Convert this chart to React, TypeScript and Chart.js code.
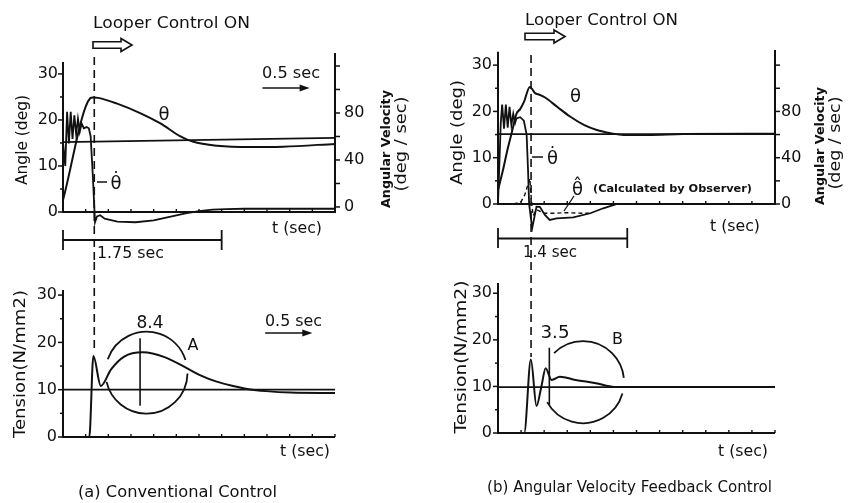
import React, { useEffect, useRef } from 'react';
import { Chart, registerables } from 'chart.js';

Chart.register(...registerables);

// ---------------- Data: (a) Conventional Control ----------------
const A_THETA_T = [0, 0.30, 0.33, 0.39, 0.59, 0.85, 1.07, 1.29, 1.43, 1.70, 2.06, 2.43, 3.0];
const A_THETA = [2.6, 24.7, 24.9, 24.8, 23.6, 21.5, 19.3, 16.5, 15.3, 14.4, 14.1, 14.2, 14.8];

const A_OMEGA_T = [0, 0.025, 0.045, 0.065, 0.085, 0.105, 0.125, 0.145, 0.165, 0.185, 0.205, 0.23, 0.26, 0.285, 0.305, 0.33, 0.353, 0.375, 0.41, 0.46, 0.6, 0.8, 1.0, 1.2, 1.35, 1.5, 1.65, 1.8, 2.0, 3.0];
const A_OMEGA = [55, 35, 81, 54, 81, 58, 78, 62, 75, 64, 71, 67, 68, 67, 60, 25, -13, -8, -7, -10, -12.5, -13, -11.5, -8, -5.5, -3.5, -2.3, -1.8, -1.5, -1.5];

const A_REF_ANGLE_T = [0, 3];
const A_REF_ANGLE = [15.2, 16.1];

const A_TENSION_T = [0, 0.29, 0.335, 0.417, 0.53, 0.675, 0.88, 1.12, 1.38, 1.51, 1.695, 1.875, 2.05, 2.24, 2.51, 3.0];
const A_TENSION = [0, 0, 17.1, 10.8, 14.3, 17.0, 17.9, 16.9, 14.4, 13.1, 11.7, 10.8, 10.1, 9.7, 9.4, 9.3];

const A_REF_TENSION_T = [0, 3];
const A_REF_TENSION = [10, 10];

// ---------------- Data: (b) Angular Velocity Feedback Control ----------------
const B_THETA_T = [0, 0.05, 0.1, 0.15, 0.2, 0.24, 0.28, 0.345, 0.37, 0.4, 0.45, 0.51, 0.64, 0.78, 0.93, 1.07, 1.22, 1.36, 1.62, 2.0, 3.0];
const B_THETA = [3.0, 7, 11.5, 15.5, 19.5, 20.5, 22, 25.3, 24.8, 24, 23.6, 23, 21, 18.9, 17.1, 16, 15.3, 14.9, 14.9, 15.1, 15.2];

const B_OMEGA_T = [0, 0.03, 0.045, 0.065, 0.085, 0.105, 0.125, 0.145, 0.165, 0.185, 0.2, 0.24, 0.28, 0.31, 0.325, 0.337, 0.37, 0.417, 0.453, 0.508, 0.56, 0.635, 0.815, 1.0, 1.14, 1.29, 3.0];
const B_OMEGA = [0, 70, 86, 65, 86, 66, 84, 68, 78, 70, 74, 75, 72, 60, 30, 0, -21, -2.3, -2.5, -9.5, -13.8, -12.4, -11.5, -8, -3.7, 0, 0];

const B_OBSERVER_T = [0.17, 0.25, 0.29, 0.345, 0.36, 0.38, 0.42, 0.5, 0.6, 0.75, 0.9, 1.0];
const B_OBSERVER = [0, 2, 8, 22, 5, -10, -5, -8, -8, -7.5, -8, -8];

const B_REF_ANGLE_T = [0, 3];
const B_REF_ANGLE = [15.1, 15.1];

const B_TENSION_T = [0, 0.284, 0.356, 0.417, 0.47, 0.516, 0.58, 0.67, 0.84, 1.06, 1.26, 1.6, 3.0];
const B_TENSION = [0, 0, 15.8, 5.8, 10, 13.9, 11.4, 12.1, 11.4, 10.7, 9.9, 9.85, 9.85];

const B_REF_TENSION_T = [0, 3];
const B_REF_TENSION = [9.85, 9.85];

// ---------------- Ticks ----------------
const ANGLE_TICKS = [0, 10, 20, 30];
const ANGLE_MARKS = [0, 5, 10, 15, 20, 25, 30];
const VEL_TICKS = [0, 40, 80];
const VEL_MARKS = [0, 20, 40, 60, 80, 100, 120];
const TENSION_TICKS = [0, 10, 20, 30];
const TENSION_MARKS = [0, 5, 10, 15, 20, 25, 30];
const TIME_MARKS = [0.25, 0.5, 0.75, 1, 1.25, 1.5, 1.75, 2, 2.25, 2.5, 2.75, 3];

// Events / measures (seconds)
const ON_A = 0.345;
const ON_B = 0.358;
const SETTLE_A = 1.75;
const SETTLE_B = 1.4;

const INK = '#111';
const FONT = '"DejaVu Sans", "Liberation Sans", Arial, sans-serif';
const TH = '\u03B8';
const TH_DOT = '\u03B8\u0307';
const TH_HAT = '\u03B8\u0302';
const AXIS_W = 40;

// ---------------- helpers ----------------
const pts = (t: number[], v: number[]) => t.map((x, i) => ({ x, y: v[i] }));

function ds(t: number[], v: number[], axis: string, extra: any = {}) {
  return {
    data: pts(t, v),
    yAxisID: axis,
    borderColor: INK,
    borderWidth: 2,
    pointRadius: 0,
    fill: false,
    tension: 0,
    cubicInterpolationMode: 'monotone',
    ...extra,
  };
}

function yAxis(pos: 'left' | 'right', min: number, max: number, ticks: number[], padding: number) {
  return {
    type: 'linear',
    position: pos,
    min,
    max,
    afterFit: (s: any) => { s.width = AXIS_W; },
    afterBuildTicks: (s: any) => { s.ticks = ticks.map((v) => ({ value: v })); },
    grid: { display: false, drawTicks: false },
    border: { display: false },
    ticks: {
      color: INK,
      autoSkip: false,
      padding,
      font: { family: FONT, size: 16 },
      callback: (v: any) => String(v),
    },
  };
}

const X = (c: any, t: number) => c.scales.x.getPixelForValue(t);
const Y = (c: any, id: string, v: number) => c.scales[id].getPixelForValue(v);

function seg(ctx: CanvasRenderingContext2D, x1: number, y1: number, x2: number, y2: number, w = 2) {
  ctx.beginPath();
  ctx.lineWidth = w;
  ctx.moveTo(x1, y1);
  ctx.lineTo(x2, y2);
  ctx.stroke();
}

function dashed(ctx: CanvasRenderingContext2D, x: number, y1: number, y2: number) {
  ctx.save();
  ctx.setLineDash([8, 5]);
  seg(ctx, x, y1, x, y2, 1.6);
  ctx.restore();
}

type TOpts = { size?: number; weight?: string; align?: CanvasTextAlign; baseline?: CanvasTextBaseline; width?: number; rot?: number };
function txt(ctx: CanvasRenderingContext2D, s: string, x: number, y: number, o: TOpts = {}) {
  const size = o.size || 16;
  const w = o.weight || 'normal';
  ctx.save();
  ctx.font = `${w} ${size}px ${FONT}`;
  ctx.fillStyle = INK;
  ctx.textAlign = o.align || 'left';
  ctx.textBaseline = o.baseline || 'alphabetic';
  ctx.translate(x, y);
  if (o.rot) ctx.rotate(o.rot);
  if (o.width) {
    const m = ctx.measureText(s).width;
    ctx.scale(o.width / m, 1);
  }
  ctx.fillText(s, 0, 0);
  ctx.restore();
}

function hollowArrow(ctx: CanvasRenderingContext2D, x: number, y: number, len: number) {
  const h = 3.2, hh = 6.5, head = 11;
  ctx.beginPath();
  ctx.moveTo(x, y - h);
  ctx.lineTo(x + len - head, y - h);
  ctx.lineTo(x + len - head, y - hh);
  ctx.lineTo(x + len, y);
  ctx.lineTo(x + len - head, y + hh);
  ctx.lineTo(x + len - head, y + h);
  ctx.lineTo(x, y + h);
  ctx.closePath();
  ctx.lineWidth = 1.6;
  ctx.stroke();
}

function arrow(ctx: CanvasRenderingContext2D, x1: number, x2: number, y: number) {
  seg(ctx, x1, y, x2 - 6, y, 1.6);
  ctx.beginPath();
  ctx.moveTo(x2, y);
  ctx.lineTo(x2 - 10, y - 3.5);
  ctx.lineTo(x2 - 10, y + 3.5);
  ctx.closePath();
  ctx.fill();
}

function bracket(ctx: CanvasRenderingContext2D, xa: number, xb: number, y: number, t1: number, t2: number) {
  seg(ctx, xa, y, xb, y, 1.8);
  seg(ctx, xa, t1, xa, t2, 1.8);
  seg(ctx, xb, t1, xb, t2, 1.8);
}

function arcs(ctx: CanvasRenderingContext2D, cx: number, cy: number, r: number, ranges: number[][]) {
  ctx.lineWidth = 1.8;
  ranges.forEach(([a, b]) => {
    ctx.beginPath();
    ctx.arc(cx, cy, r, (a * Math.PI) / 180, (b * Math.PI) / 180);
    ctx.stroke();
  });
}

function axesFrame(c: any, ctx: CanvasRenderingContext2D, leftId: string, leftTop: number, marks: number[], rightId?: string, rightTop?: number) {
  const x0 = X(c, 0), x3 = X(c, 3), yb = Y(c, leftId, 0);
  seg(ctx, x0, yb, x3, yb, 2);
  seg(ctx, x0, Y(c, leftId, leftTop), x0, yb + 1, 2);
  marks.forEach((v) => seg(ctx, x0 - (v % 10 === 0 ? 5 : 3), Y(c, leftId, v), x0, Y(c, leftId, v), 1.5));
  TIME_MARKS.forEach((t) => seg(ctx, X(c, t), yb, X(c, t), yb - 3, 1.4));
  if (rightId && rightTop !== undefined) {
    seg(ctx, x3, Y(c, rightId, rightTop), x3, yb + 1, 2);
    VEL_MARKS.forEach((v) => seg(ctx, x3, Y(c, rightId, v), x3 + 5, Y(c, rightId, v), 1.5));
  }
}

function config(datasets: any[], scales: any, padding: any, draw: (c: any, ctx: CanvasRenderingContext2D) => void) {
  return {
    type: 'line',
    data: { datasets },
    options: {
      responsive: false,
      animation: false,
      devicePixelRatio: 1,
      events: [],
      layout: { padding },
      plugins: { legend: { display: false }, tooltip: { enabled: false } },
      scales,
    },
    plugins: [
      {
        id: 'annot',
        afterDraw: (c: any) => {
          const ctx = c.ctx as CanvasRenderingContext2D;
          ctx.save();
          ctx.strokeStyle = INK;
          ctx.fillStyle = INK;
          draw(c, ctx);
          ctx.restore();
        },
      },
    ],
  } as any;
}

const ROT = -Math.PI / 2;

// ---------------- Panels ----------------
function topA() {
  return config(
    [
      ds(A_REF_ANGLE_T, A_REF_ANGLE, 'y', { cubicInterpolationMode: 'default', borderWidth: 1.8 }),
      ds(A_THETA_T, A_THETA, 'y'),
      ds(A_OMEGA_T, A_OMEGA, 'y2', { cubicInterpolationMode: 'default', borderWidth: 1.8 }),
    ],
    {
      x: { type: 'linear', min: 0, max: 3, display: false },
      y: yAxis('left', -3.48, 35.2, ANGLE_TICKS, 5),
      y2: yAxis('right', -17.9, 133.6, VEL_TICKS, 9),
    },
    { left: 63 - AXIS_W, right: 94 - AXIS_W, top: 50, bottom: 34 },
    (c, ctx) => {
      axesFrame(c, ctx, 'y', 32.6, ANGLE_MARKS, 'y2', 131);
      dashed(ctx, X(c, ON_A), 57, c.height);
      txt(ctx, 'Looper Control ON', 93, 28, { size: 16, width: 157 });
      hollowArrow(ctx, 93, 45, 39);
      txt(ctx, '0.5 sec', 262, 78, { size: 16, width: 58 });
      arrow(ctx, X(c, 2.2), X(c, 2.72), 88);
      txt(ctx, TH, 164, 115, { size: 18, align: 'center', baseline: 'middle' });
      seg(ctx, 97, 182, 107, 182, 1.5);
      txt(ctx, TH_DOT, 116, 184, { size: 18, align: 'center', baseline: 'middle' });
      txt(ctx, 't (sec)', 272, 233, { size: 16, width: 50 });
      bracket(ctx, X(c, 0), X(c, SETTLE_A), 240, 230, 250);
      txt(ctx, '1.75 sec', 97, 258, { size: 16, width: 67 });
      txt(ctx, 'Angle (deg)', 23, 140, { size: 15, width: 90, rot: ROT, align: 'center', baseline: 'middle' });
      txt(ctx, 'Angular Velocity', 387, 149, { size: 12, weight: 'bold', width: 118, rot: ROT, align: 'center', baseline: 'middle' });
      txt(ctx, '(deg / sec)', 402, 144, { size: 15, width: 95, rot: ROT, align: 'center', baseline: 'middle' });
    }
  );
}

function bottomA() {
  return config(
    [
      ds(A_REF_TENSION_T, A_REF_TENSION, 'y', { cubicInterpolationMode: 'default', borderWidth: 1.8 }),
      ds(A_TENSION_T, A_TENSION, 'y'),
    ],
    {
      x: { type: 'linear', min: 0, max: 3, display: false },
      y: yAxis('left', 0, 31.08, TENSION_TICKS, 6),
    },
    { left: 63 - AXIS_W, right: 94, top: 28, bottom: 66 },
    (c, ctx) => {
      axesFrame(c, ctx, 'y', 31.08, TENSION_MARKS);
      dashed(ctx, X(c, ON_A), 0, 88);
      arcs(ctx, X(c, 0.921), Y(c, 'y', 13.6), 41, [[-161, -18], [1, 167]]);
      seg(ctx, X(c, 0.85), Y(c, 'y', 20.9), X(c, 0.85), Y(c, 'y', 6.6), 1.6);
      txt(ctx, '8.4', 150, 66, { size: 17, width: 27, align: 'center' });
      txt(ctx, 'A', 193, 84, { size: 16, align: 'center', baseline: 'middle' });
      txt(ctx, '0.5 sec', 265, 64, { size: 16, width: 57 });
      arrow(ctx, X(c, 2.23), X(c, 2.75), 71);
      txt(ctx, 't (sec)', 280, 194, { size: 16, width: 50 });
      txt(ctx, '(a) Conventional Control', 78, 235, { size: 16, width: 199 });
      txt(ctx, 'Tension(N/mm2)', 21, 102, { size: 16, width: 148, rot: ROT, align: 'center', baseline: 'middle' });
    }
  );
}

function topB() {
  return config(
    [
      ds(B_REF_ANGLE_T, B_REF_ANGLE, 'y', { cubicInterpolationMode: 'default', borderWidth: 1.8 }),
      ds(B_THETA_T, B_THETA, 'y'),
      ds(B_OMEGA_T, B_OMEGA, 'y2', { cubicInterpolationMode: 'default', borderWidth: 1.8 }),
      ds(B_OBSERVER_T, B_OBSERVER, 'y2', { cubicInterpolationMode: 'default', borderWidth: 1.4, borderDash: [4, 3] }),
    ],
    {
      x: { type: 'linear', min: 0, max: 3, display: false },
      y: yAxis('left', -6.05, 33.7, ANGLE_TICKS, 6),
      y2: yAxis('right', -24.2, 134.8, VEL_TICKS, 6),
    },
    { left: 69 - AXIS_W, right: 83 - AXIS_W, top: 48, bottom: 30 },
    (c, ctx) => {
      axesFrame(c, ctx, 'y', 32.9, ANGLE_MARKS, 'y2', 133);
      dashed(ctx, X(c, ON_B), 55, c.height);
      txt(ctx, 'Looper Control ON', 96, 25, { size: 16, width: 153 });
      hollowArrow(ctx, 96, 36.5, 40);
      txt(ctx, TH, 146.5, 97, { size: 18, align: 'center', baseline: 'middle' });
      seg(ctx, 103, 157, 114, 157, 1.5);
      txt(ctx, TH_DOT, 123.5, 159, { size: 18, align: 'center', baseline: 'middle' });
      txt(ctx, TH_HAT, 148.5, 190, { size: 18, align: 'center', baseline: 'middle' });
      seg(ctx, 145, 196, 135, 211, 1.3);
      txt(ctx, '(Calculated by Observer)', 164, 192, { size: 11, weight: 'bold', width: 159 });
      txt(ctx, 't (sec)', 281, 231, { size: 16, width: 50 });
      bracket(ctx, X(c, 0), X(c, SETTLE_B), 238.5, 228, 248);
      txt(ctx, '1.4 sec', 94, 257, { size: 16, width: 54 });
      txt(ctx, 'Angle (deg)', 29, 132.5, { size: 15, width: 105, rot: ROT, align: 'center', baseline: 'middle' });
      txt(ctx, 'Angular Velocity', 392, 146, { size: 12, weight: 'bold', width: 118, rot: ROT, align: 'center', baseline: 'middle' });
      txt(ctx, '(deg / sec)', 407.5, 143, { size: 15, width: 93, rot: ROT, align: 'center', baseline: 'middle' });
    }
  );
}

function bottomB() {
  return config(
    [
      ds(B_REF_TENSION_T, B_REF_TENSION, 'y', { cubicInterpolationMode: 'default', borderWidth: 1.8 }),
      ds(B_TENSION_T, B_TENSION, 'y'),
    ],
    {
      x: { type: 'linear', min: 0, max: 3, display: false },
      y: yAxis('left', 0, 32.2, TENSION_TICKS, 6),
    },
    { left: 69 - AXIS_W, right: 83, top: 21, bottom: 70 },
    (c, ctx) => {
      axesFrame(c, ctx, 'y', 32.2, TENSION_MARKS);
      dashed(ctx, X(c, ON_B), 0, 95);
      arcs(ctx, X(c, 0.921), Y(c, 'y', 10.9), 41, [[-135, -6], [16, 151]]);
      seg(ctx, X(c, 0.556), Y(c, 'y', 18.3), X(c, 0.556), Y(c, 'y', 6.1), 1.6);
      txt(ctx, '3.5', 126, 76, { size: 17, width: 29, align: 'center' });
      txt(ctx, 'B', 188.5, 78, { size: 16, align: 'center', baseline: 'middle' });
      txt(ctx, 't (sec)', 289, 194, { size: 16, width: 50 });
      txt(ctx, '(b) Angular Velocity Feedback Control', 58, 230, { size: 16, width: 285 });
      txt(ctx, 'Tension(N/mm2)', 32.5, 95, { size: 16, width: 153, rot: ROT, align: 'center', baseline: 'middle' });
    }
  );
}

export default function App() {
  const r1 = useRef<HTMLCanvasElement>(null);
  const r2 = useRef<HTMLCanvasElement>(null);
  const r3 = useRef<HTMLCanvasElement>(null);
  const r4 = useRef<HTMLCanvasElement>(null);

  useEffect(() => {
    const charts = [
      new Chart(r1.current as HTMLCanvasElement, topA()),
      new Chart(r2.current as HTMLCanvasElement, bottomA()),
      new Chart(r3.current as HTMLCanvasElement, topB()),
      new Chart(r4.current as HTMLCanvasElement, bottomB()),
    ];
    return () => charts.forEach((c) => c.destroy());
  }, []);

  const cs = (left: number, top: number, w: number, h: number): React.CSSProperties => ({
    position: 'absolute', left, top, width: w, height: h, display: 'block',
  });

  return (
    <div style={{ position: 'absolute', left: 0, top: 0, width: 858, height: 503, background: '#fff', overflow: 'hidden' }}>
      <canvas ref={r1} width={429} height={262} style={cs(0, 0, 429, 262)} />
      <canvas ref={r2} width={429} height={241} style={cs(0, 262, 429, 241)} />
      <canvas ref={r3} width={429} height={262} style={cs(429, 0, 429, 262)} />
      <canvas ref={r4} width={429} height={241} style={cs(429, 262, 429, 241)} />
    </div>
  );
}
